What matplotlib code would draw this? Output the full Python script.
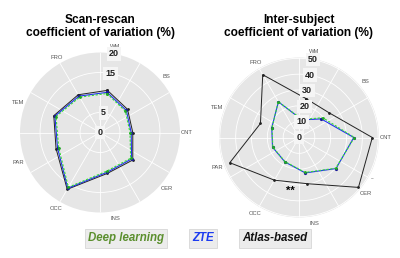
import numpy as np
import matplotlib
matplotlib.use('Agg')
import matplotlib.pyplot as plt

plt.rcParams['font.family'] = ['Liberation Sans', 'DejaVu Sans']

#-------------------------------------------------------
regions = ['WM', 'BS', 'CNT', 'CER', 'INS', 'OCC', 'PAR', 'TEM', 'FRO']

# scan-rescan CoV (%)
scan_dl = [9.9, 8.3, 7.5, 10.0, 9.8, 15.8, 11.0, 11.7, 10.2]
scan_zte = [10.2, 8.6, 7.8, 10.3, 10.1, 16.1, 11.3, 12.0, 10.5]
scan_atlas = [10.7, 9.0, 8.2, 10.7, 10.4, 16.4, 11.7, 12.3, 10.9]
scan_ticks = [0, 5, 15, 20]

# inter-subject CoV (%)
inter_dl = [11.5, 19.5, 35.0, 30.2, 22.4, 17.6, 17.6, 18.1, 26.2]
inter_zte = [11.3, 18.3, 34.6, 30.5, 22.7, 17.8, 17.8, 18.3, 26.0]
inter_atlas = [25.0, 24.5, 46.3, 49.0, 29.6, 31.1, 46.5, 25.9, 45.8]
inter_ticks = [0, 10, 20, 30, 40, 50]
#-------------------------------------------------------

fig = plt.figure(figsize=(4.0, 2.58), dpi=100)

theta = np.deg2rad(np.arange(len(regions)) * 40.0)
theta_c = np.append(theta, theta[0])


def close(v):
    return np.append(v, v[0])


def radar(rect, dl, zte, atlas, ticks, rmax, title):
    ax = fig.add_axes(rect, projection='polar')
    ax.set_theta_offset(np.deg2rad(80))
    ax.set_theta_direction(-1)
    ax.set_facecolor('#e6e6e6')
    ax.spines['polar'].set_visible(False)
    ax.set_ylim(0, rmax)
    ax.set_rticks([t for t in ticks if 0 < t < rmax])
    ax.set_yticklabels([])
    ax.set_thetagrids((np.arange(12) * 30 + 350) % 360, labels=[])
    ax.grid(color='white', linewidth=0.6)

    ax.plot(theta_c, close(atlas), color='#222222', lw=0.7, marker='o', ms=1.0, zorder=3)
    ax.plot(theta_c, close(zte), color='#2233ee', lw=0.8, marker='o', ms=1.3,
            mfc='#1a1a99', mec='#1a1a99', zorder=4)
    ax.plot(theta_c, close(dl), color='#33dd33', lw=0.8, ls=(0, (2, 1.5)), marker='o', ms=1.0,
            mfc='#22aa22', mec='#22aa22', zorder=5)

    for t in ticks:
        ax.text(0, t, str(t), ha='center', va='center', fontsize=6.5, fontweight='bold',
                color='#222222', zorder=6,
                bbox=dict(boxstyle='square,pad=0.25', fc='#f5f5f5', ec='none'))

    for th, name in zip(theta, regions):
        ax.text(th, rmax * 1.09, name, ha='center', va='center', fontsize=4.2,
                color='#555555', clip_on=False)

    cx = rect[0] + rect[2] / 2
    fig.text(cx, 0.85, title, ha='center', va='bottom', fontsize=8.6, fontweight='bold',
             linespacing=1.1)
    return ax


ax1 = radar([0.05, 0.1764, 0.40, 0.62], scan_dl, scan_zte, scan_atlas, scan_ticks, 20.0,
            'Scan-rescan\ncoefficient of variation (%)')
ax2 = radar([0.5475, 0.157, 0.40, 0.62], inter_dl, inter_zte, inter_atlas, inter_ticks, 50.5,
            'Inter-subject\ncoefficient of variation (%)')

# significance marks
ax2.text(np.deg2rad(179), 34, '**', ha='center', va='center', fontsize=8, fontweight='bold')
ax2.text(np.deg2rad(109), 53.5, '--', ha='center', va='center', fontsize=4, color='#555555',
         clip_on=False)

# legend boxes
legend = [('Deep learning', '#5b8f2e', 0.315), ('ZTE', '#1d3cf0', 0.508), ('Atlas-based', '#111111', 0.688)]
for name, col, x in legend:
    fig.text(x, 0.076, name, ha='center', va='center', fontsize=8.3, fontweight='bold',
             fontstyle='italic', color=col,
             bbox=dict(boxstyle='square,pad=0.3', fc='#ececec', ec='#d0d0d0', lw=0.5))

fig.savefig('out.png', dpi=100)
